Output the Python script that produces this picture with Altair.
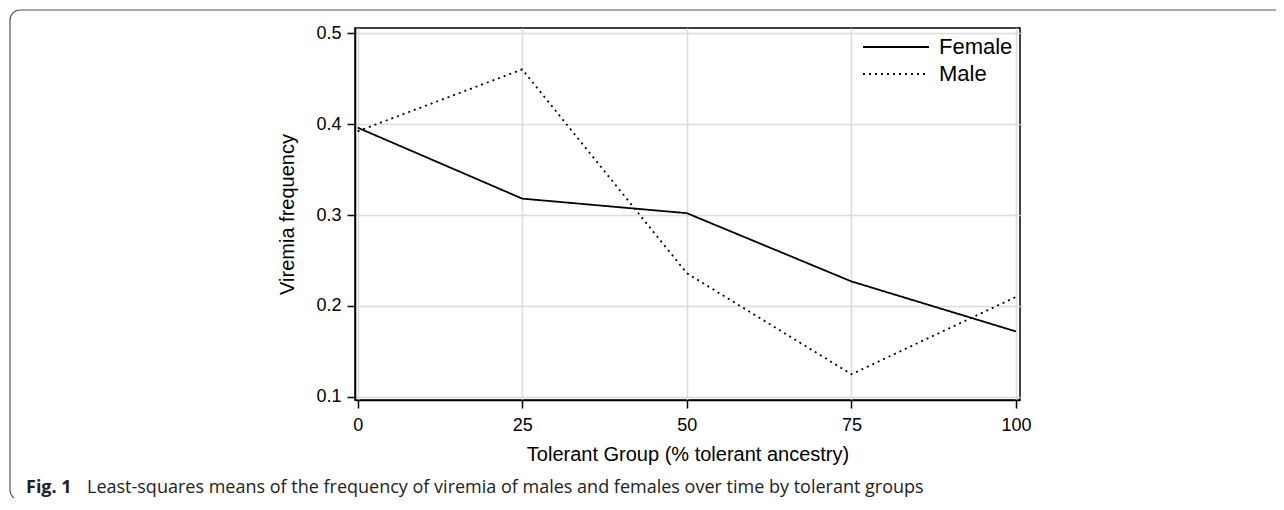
import altair as alt
import pandas as pd

# ---- data ----
groups = [0, 25, 50, 75, 100]
female = [0.396, 0.318, 0.302, 0.227, 0.172]
male = [0.392, 0.460, 0.236, 0.125, 0.210]
series = ["Female", "Male"]
x_ticks = [0, 25, 50, 75, 100]
y_ticks = [0.1, 0.2, 0.3, 0.4, 0.5]
x_title = "Tolerant Group (% tolerant ancestry)"
y_title = "Viremia frequency"
caption_bold = "Fig. 1"
caption_text = "Least-squares means of the frequency of viremia of males and females over time by tolerant groups"

rows = []
for g, f, m in zip(groups, female, male):
    rows.append({"group": g, "value": f, "sex": "Female"})
    rows.append({"group": g, "value": m, "sex": "Male"})
df = pd.DataFrame(rows)

AXIS_FONT = "Liberation Sans"

W, H = 665, 372
PAD_L, PAD_T = 347, 20
CANVAS_W, CANVAS_H = 1268, 490

lines = alt.Chart(df).mark_line(color="black", strokeWidth=1.8).encode(
    x=alt.X(
        "group:Q",
        scale=alt.Scale(domain=[-0.4, 100.6], nice=False, zero=False),
        axis=alt.Axis(values=x_ticks, title=x_title, format="d"),
    ),
    y=alt.Y(
        "value:Q",
        scale=alt.Scale(domain=[0.0967, 0.5055], nice=False, zero=False),
        axis=alt.Axis(values=y_ticks, title=y_title, format=".1f"),
    ),
    strokeDash=alt.StrokeDash(
        "sex:N",
        scale=alt.Scale(domain=series, range=[[1, 0], [2, 4]]),
        legend=alt.Legend(
            title=None,
            orient="none",
            legendX=529,
            legendY=7,
            symbolType="M-3,0H3",
            symbolSize=484,
            symbolStrokeWidth=1.8,
            symbolStrokeColor="black",
            labelFont=AXIS_FONT,
            labelFontSize=22,
            labelColor="black",
            labelOffset=31,
            rowPadding=4,
            padding=0,
        ),
    ),
    detail="sex:N",
)

one = pd.DataFrame({"k": [0]})

frame = alt.Chart(one).mark_rect(
    fillOpacity=0, stroke="#555555", strokeWidth=1.2, cornerRadius=10
).encode(
    x=alt.value(-345), x2=alt.value(940), y=alt.value(-18), y2=alt.value(472)
)

cap1 = alt.Chart(one).mark_text(
    text=caption_bold, align="left", baseline="alphabetic",
    font="Open Sans", fontWeight="bold", fontSize=18, color="#222222",
).encode(x=alt.value(-329), y=alt.value(465))

cap2 = alt.Chart(one).mark_text(
    text=caption_text, align="left", baseline="alphabetic",
    font="Open Sans", fontSize=18, color="#222222",
).encode(x=alt.value(-268), y=alt.value(465))

chart = alt.layer(frame, lines, cap1, cap2).properties(
    width=W,
    height=H,
    autosize=alt.AutoSizeParams(type="none"),
    padding={"left": PAD_L, "top": PAD_T, "right": CANVAS_W - PAD_L - W, "bottom": CANVAS_H - PAD_T - H},
).configure_view(
    stroke="black", strokeWidth=1.5
).configure_axis(
    labelFont=AXIS_FONT,
    labelFontSize=18,
    labelColor="black",
    titleFont=AXIS_FONT,
    titleFontSize=20,
    titleFontWeight="normal",
    titleColor="black",
    domainColor="black",
    domainWidth=1.5,
    tickColor="black",
    tickWidth=1.5,
    tickSize=8,
    grid=True,
    gridColor="#dcdcdc",
    gridWidth=1.6,
).configure_axisX(
    labelPadding=8, titlePadding=10
).configure_axisY(
    labelPadding=6, titlePadding=18
)

chart.save("out.html", embed_options={"renderer": "svg", "actions": False})
